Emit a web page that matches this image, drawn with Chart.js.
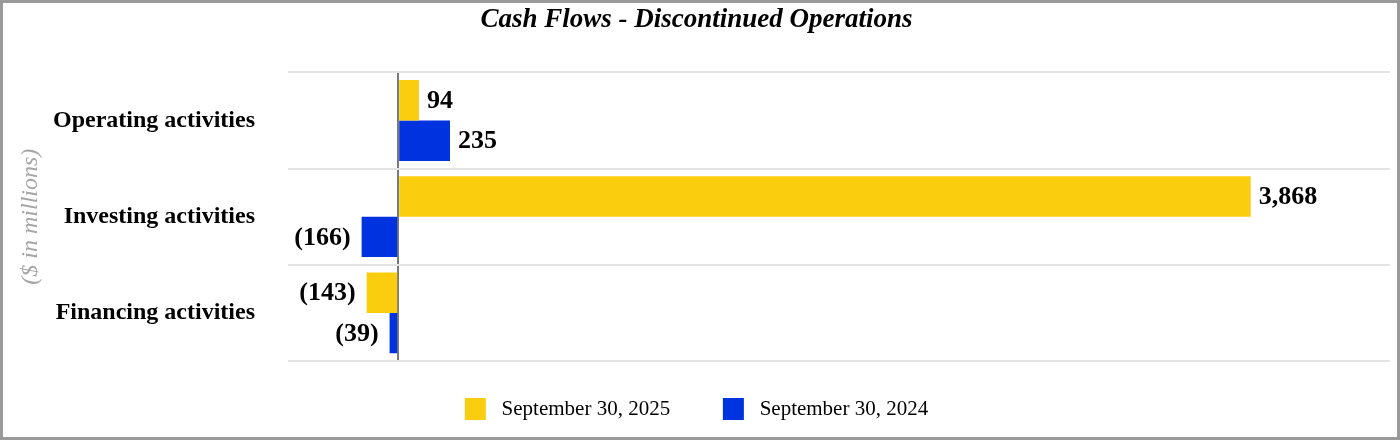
<!DOCTYPE html>
<html>
<head>
<meta charset="utf-8">
<script src="https://cdn.jsdelivr.net/npm/chart.js@4"></script>
<style>
  html, body { margin: 0; padding: 0; background: #fff; }
  #wrap { width: 1400px; height: 440px; box-sizing: border-box; border: 3px solid #9a9a9a; position: relative; }
  #wrap canvas { display: block; }
</style>
</head>
<body>
<div id="wrap"><canvas id="c" width="1394" height="434"></canvas></div>
<script>
const categories = ['Operating activities', 'Investing activities', 'Financing activities'];
const seriesNames = ['September 30, 2025', 'September 30, 2024'];
const values2025 = [94, 3868, -143];
const values2024 = [235, -166, -39];
const xMin = -500, xMax = 4500;

const SERIF = "'Liberation Serif', 'Times New Roman', serif";

function fmt(v) {
  const s = Math.abs(v).toLocaleString('en-US');
  return v < 0 ? '(' + s + ')' : s;
}

const valueLabels = {
  id: 'valueLabels',
  afterDatasetsDraw(chart) {
    const ctx = chart.ctx;
    ctx.save();
    ctx.font = 'bold 26px ' + SERIF;
    ctx.fillStyle = '#000';
    ctx.textBaseline = 'middle';
    chart.data.datasets.forEach((ds, i) => {
      const meta = chart.getDatasetMeta(i);
      meta.data.forEach((bar, j) => {
        const v = ds.data[j];
        if (v >= 0) {
          ctx.textAlign = 'left';
          ctx.fillText(fmt(v), bar.x + 8, bar.y + 1);
        } else {
          ctx.textAlign = 'right';
          ctx.fillText(fmt(v), bar.x - 11, bar.y + 1);
        }
      });
    });
    ctx.restore();
  }
};

new Chart(document.getElementById('c'), {
  type: 'bar',
  data: {
    labels: categories,
    datasets: [
      { label: seriesNames[0], data: values2025, backgroundColor: '#facd0f', categoryPercentage: 0.84, barPercentage: 1.0 },
      { label: seriesNames[1], data: values2024, backgroundColor: '#0033e0', categoryPercentage: 0.84, barPercentage: 1.0 }
    ]
  },
  options: {
    indexAxis: 'y',
    responsive: false,
    animation: false,
    layout: { padding: { left: 0, right: 7, top: 0, bottom: 7 } },
    plugins: {
      title: {
        display: true,
        text: 'Cash Flows - Discontinued Operations',
        color: '#000',
        font: { family: SERIF, size: 27, weight: 'bold', style: 'italic' },
        padding: { top: 1, bottom: 36 }
      },
      legend: {
        position: 'bottom',
        labels: {
          color: '#000',
          font: { family: SERIF, size: 21 },
          boxWidth: 21,
          boxHeight: 22,
          padding: 37,
          generateLabels(chart) {
            return chart.data.datasets.map((ds, i) => ({
              text: ' ' + ds.label + (i === 0 ? '\u2002 ' : ''),
              fillStyle: ds.backgroundColor,
              strokeStyle: ds.backgroundColor,
              lineWidth: 0,
              hidden: false,
              datasetIndex: i,
              fontColor: '#000'
            }));
          }
        }
      },
      tooltip: { enabled: false }
    },
    scales: {
      x: {
        min: xMin,
        max: xMax,
        ticks: { display: false, stepSize: 500 },
        border: { display: false },
        grid: {
          drawTicks: false,
          color: (c) => (c.tick && c.tick.value === 0 ? '#7a7a7a' : 'rgba(0,0,0,0)'),
          lineWidth: (c) => (c.tick && c.tick.value === 0 ? 2 : 0)
        }
      },
      y: {
        offset: true,
        border: { display: false },
        grid: { drawTicks: false, color: '#e3e3e3', lineWidth: 2, offset: true },
        ticks: {
          color: '#000',
          font: { family: SERIF, size: 24, weight: 'bold' },
          padding: 33
        },
        title: {
          display: true,
          text: '($ in millions)',
          color: '#a6a6a6',
          font: { family: SERIF, size: 24, style: 'italic' },
          padding: { top: 13, bottom: 0 }
        },
        afterFit(scale) { scale.width = 285; }
      }
    }
  },
  plugins: [valueLabels]
});
</script>
</body>
</html>
